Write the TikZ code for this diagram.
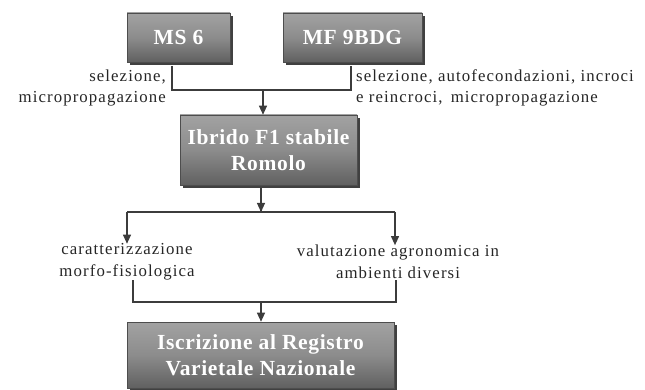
\documentclass[tikz,border=0pt]{standalone}
\usepackage{fontspec}
\setmainfont{Liberation Serif}
\usetikzlibrary{arrows.meta,shadows}
\definecolor{boxtop}{HTML}{A2A2A2}
\definecolor{boxmid}{HTML}{8C8C8C}
\definecolor{boxbot}{HTML}{606060}
\definecolor{linec}{HTML}{3C3C3C}
\tikzset{
  graybox/.style={draw=boxbot!80!black, line width=0.6pt, top color=boxtop, bottom color=boxbot, middle color=boxmid,
    text=white, font=\bfseries\fontsize{21.5}{26}\selectfont\addfontfeature{LetterSpace=3}, align=center, inner sep=0pt,
    drop shadow={shadow xshift=3pt, shadow yshift=-3pt, fill=black!75, opacity=1}},
  lbl/.style={font=\fontsize{16.8}{21.5}\selectfont\addfontfeature{LetterSpace=6.5}, text=black!85, inner sep=0pt},
  conn/.style={draw=linec, line width=1.1pt},
  arr/.style={conn, -{Triangle[width=8pt,length=9pt]}},
}
\begin{document}
\begin{tikzpicture}[x=1pt,y=-1pt]
\useasboundingbox (0,0) rectangle (645,390);
\node[graybox, minimum width=103pt, minimum height=49pt] (ms6) at (178.5,37.5) {MS 6};
\node[graybox, minimum width=139pt, minimum height=49pt] (mf) at (352.5,37.5) {MF 9BDG};
\node[graybox, minimum width=177pt, minimum height=70pt] (ibr) at (268.5,150) {Ibrido F1 stabile\\Romolo};
\node[graybox, minimum width=267pt, minimum height=66pt] (isc) at (260.5,355) {Iscrizione al Registro\\Varietale Nazionale};

\node[lbl, anchor=east, align=right] (l1) at (166,88) {selezione,\\micropropagazione};
\node[lbl, anchor=west, align=left] (r1) at (356,88) {selezione, autofecondazioni, incroci\\e reincroci,\, micropropagazione};
\node[lbl, align=center] (c1) at (127,262) {caratterizzazione\\morfo-fisiologica};
\node[lbl, align=center] (c2) at (398,262) {valutazione agronomica in\\ambienti diversi};

\coordinate (a1) at (172,66);
\coordinate (a2) at (351,66);
\coordinate (j1) at (263,90);
\draw[conn] (a1) |- (j1) -| (a2);
\draw[arr] (j1) -- (ibr.north -| j1);

\coordinate (j2) at (261,212);
\coordinate (b1) at (127,212);
\coordinate (b2) at (395,212);
\draw[conn] (ibr.south -| j2) ++(0,3) -- (j2);
\draw[conn] (b1) -- (b2);
\draw[arr] (j2) ++(0,-1) -- (j2);
\draw[arr] (b1) -- (c1.north -| b1);
\draw[arr] (b2) -- (c2.north -| b2);

\coordinate (d1) at (133,280);
\coordinate (d2) at (396,280);
\coordinate (j3) at (261,302);
\draw[conn] (d1) |- (j3) -| (d2);
\draw[arr] (j3) -- (isc.north -| j3);
\end{tikzpicture}
\end{document}
